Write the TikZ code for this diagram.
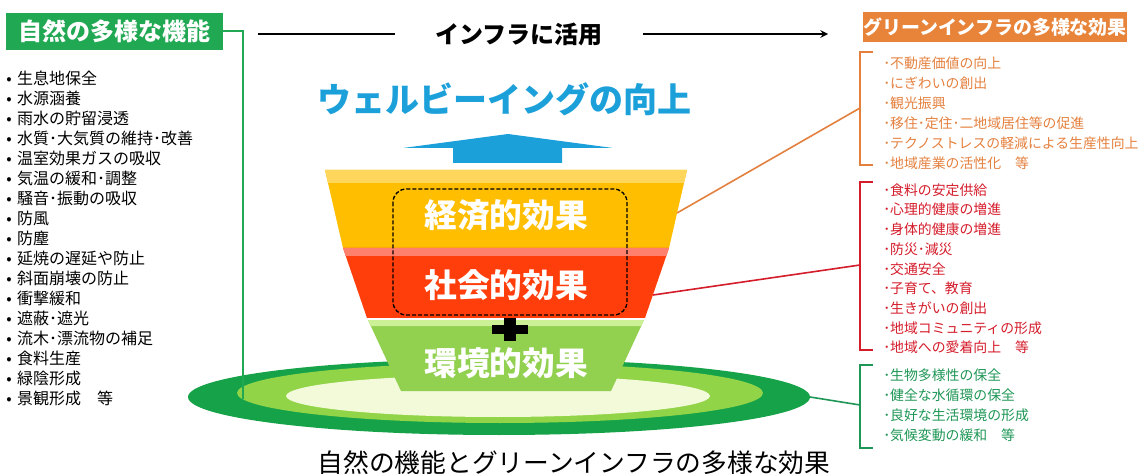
\documentclass[tikz,border=0pt]{standalone}
\usepackage{fontspec}
\setmainfont{Noto Sans CJK JP}
\definecolor{natgreen}{RGB}{32,168,82}
\definecolor{effgrn}{RGB}{30,150,85}
\definecolor{efforange}{RGB}{232,132,58}
\definecolor{orgtext}{RGB}{228,128,62}
\definecolor{redtext}{RGB}{212,28,42}
\definecolor{wbblue}{RGB}{28,160,218}
\definecolor{ringdark}{RGB}{22,162,72}
\definecolor{ringlight}{RGB}{146,212,72}
\definecolor{ringpale}{RGB}{242,250,218}
\definecolor{ecoyellow}{RGB}{255,190,0}
\definecolor{ecotop}{RGB}{255,214,92}
\definecolor{socred}{RGB}{255,62,12}
\definecolor{soctop}{RGB}{255,128,108}
\definecolor{envgreen}{RGB}{146,208,80}
\definecolor{envtop}{RGB}{204,240,150}
\tikzset{
    hdrbox/.style={fill=#1, text=white, inner sep=0pt},
    leftitem/.style={anchor=west, inner sep=0pt, font=\fontsize{12}{14}\selectfont},
    rightitem/.style={anchor=west, inner sep=0pt, text=#1, font=\fontsize{10.4}{12}\selectfont},
    efflabel/.style={text=white, inner sep=0pt, font=\bfseries\fontsize{24.5}{26}\selectfont},
    bracket/.style={draw=#1, line width=1.5pt},
    link/.style={draw=#1, line width=1.2pt}
}
\begin{document}
\begin{tikzpicture}[>=stealth, x=0.75pt, y=-0.75pt]
    \useasboundingbox(0,0)rectangle(1147,474);
    \node[hdrbox=natgreen, minimum width=162.75pt, minimum height=27.75pt, font=\bfseries\fontsize{18}{20}\selectfont] (natbox) at (114.5,31.5) {自然の多様な機能};
    \node[hdrbox=efforange, minimum width=198pt, minimum height=22.5pt, font=\bfseries\fontsize{14.2}{16}\selectfont] (effbox) at (995,27) {グリーンインフラの多様な効果};
    \foreach \t [count=\i from 0] in {生息地保全,水源涵養,雨水の貯留浸透,水質･大気質の維持･改善,温室効果ガスの吸収,気温の緩和･調整,騒音･振動の吸収,防風,防塵,延焼の遅延や防止,斜面崩壊の防止,衝撃緩和,遮蔽･遮光,流木･漂流物の補足,食料生産,緑陰形成,景観形成　等}
        {
            \node[leftitem] (fn\i) at (6,78+20*\i) {•\hspace{4pt}\t};
        }
    \coordinate (uleft) at (258,34);
    \coordinate (uright) at (828,34);
    \node[inner xsep=30pt, font=\bfseries\fontsize{18}{20}\selectfont] (use) at (519,34) {インフラに活用};
    \draw[line width=1.5pt] (uleft) -- (use.west);
    \draw[->, line width=1.5pt] (use.east) -- (uright);
    \node[text=wbblue, font=\bfseries\fontsize{25.5}{28}\selectfont] (wb) at (504,99) {ウェルビーイングの向上};
    \fill[wbblue] (453,163) -- (453,148) -- (403,148) -- (508,134) -- (613,148) -- (562,148) -- (562,163) -- cycle;
    \fill[ringdark] (499,397) ellipse [x radius=311, y radius=38];
    \fill[ringlight] (500,393) ellipse [x radius=263, y radius=30];
    \fill[ringpale] (498,396) ellipse [x radius=212, y radius=21];
    \coordinate (natend) at (243,399);
    \draw[natgreen, line width=1.5pt] (natbox.east) -| (natend);
    \fill[ecoyellow] (325,170) -- (687,170) -- (669,248) -- (343,248) -- cycle;
    \fill[ecotop] (325,170) -- (687,170) -- (684,183) -- (328,183) -- cycle;
    \fill[socred] (343,248) -- (669,248) -- (645,318) -- (367,318) -- cycle;
    \fill[soctop] (343,248) -- (669,248) -- (666,256) -- (346,256) -- cycle;
    \fill[envgreen] (368,320) -- (644,320) -- (611,391) -- (401,391) -- cycle;
    \fill[envtop] (368,320) -- (644,320) -- (641,326) -- (371,326) -- cycle;
    \draw[dash pattern=on 3pt off 1.5pt, line width=1pt, rounded corners=10pt] (393,189) rectangle (627,315);
    \fill (492,325) rectangle (528,334);
    \fill (504,318) rectangle (516,341);
    \node[efflabel] (eco) at (506,215) {経済的効果};
    \node[efflabel] (soc) at (506,285) {社会的効果};
    \node[efflabel] (env) at (506,363) {環境的効果};
    \coordinate (ecoR) at (677,213);
    \coordinate (socR) at (653,295);
    \coordinate (envR) at (810,397);
    \coordinate (ecoB) at (860,108);
    \coordinate (socB) at (860,265);
    \coordinate (envB) at (860,405);
    \foreach \c/\a/\b in {orgtext/52/165,redtext/182/350,effgrn/365/448}
        {
            \draw[bracket=\c] (873,\a) -| (860,\b) -- (873,\b);
        }
    \draw[link=orgtext] (ecoR) -- (ecoB);
    \draw[link=redtext] (socR) -- (socB);
    \draw[link=effgrn] (envR) -- (envB);
    \foreach \t [count=\i from 0] in {･不動産価値の向上,･にぎわいの創出,･観光振興,･移住･定住･二地域居住等の促進,･テクノストレスの軽減による生産性向上,･地域産業の活性化　等}
        {
            \node[rightitem=orgtext] (ei\i) at (883,63+20*\i) {\t};
        }
    \foreach \t [count=\i from 0] in {･食料の安定供給,･心理的健康の増進,･身体的健康の増進,･防災･減災,･交通安全,･子育て、教育,･生きがいの創出,･地域コミュニティの形成,･地域への愛着向上　等}
        {
            \node[rightitem=redtext] (si\i) at (883,190+19.7*\i) {\t};
        }
    \foreach \t [count=\i from 0] in {･生物多様性の保全,･健全な水循環の保全,･良好な生活環境の形成,･気候変動の緩和　等}
        {
            \node[rightitem=effgrn] (vi\i) at (883,375+20*\i) {\t};
        }
    \node[font=\fontsize{19.3}{22}\selectfont] (cap) at (574,463) {自然の機能とグリーンインフラの多様な効果};
\end{tikzpicture}
\end{document}
